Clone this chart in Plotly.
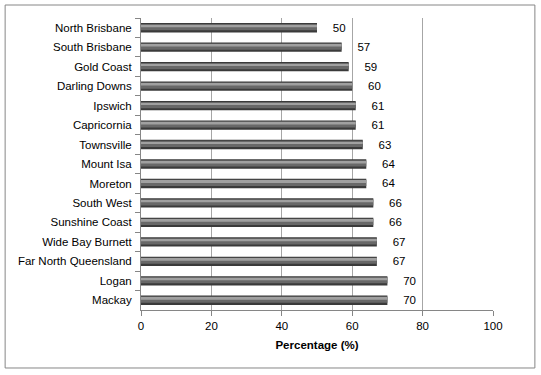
import plotly.graph_objects as go

regions = ["North Brisbane", "South Brisbane", "Gold Coast", "Darling Downs", "Ipswich",
           "Capricornia", "Townsville", "Mount Isa", "Moreton", "South West",
           "Sunshine Coast", "Wide Bay Burnett", "Far North Queensland", "Logan", "Mackay"]
values = [50, 57, 59, 60, 61, 61, 63, 64, 64, 66, 66, 67, 67, 70, 70]
x_ticks = [0, 20, 40, 60, 80, 100]

font_family = "Liberation Sans, Arial, sans-serif"

fig = go.Figure()
# dark body
fig.add_trace(go.Bar(y=regions, x=values, orientation="h", width=0.48,
                     marker=dict(color="#3a3a3a", line=dict(width=0)),
                     text=["\u00a0\u00a0\u00a0\u00a0" + str(v) for v in values], textposition="outside",
                     constraintext="none",
                     textfont=dict(size=11.5, color="#000000", family=font_family),
                     cliponaxis=False, hoverinfo="skip"))
# mid tone
fig.add_trace(go.Bar(y=regions, x=values, orientation="h", width=0.32, offset=-0.19,
                     marker=dict(color="#686868", line=dict(width=0)), hoverinfo="skip"))
# highlight
fig.add_trace(go.Bar(y=regions, x=values, orientation="h", width=0.10, offset=-0.13,
                     marker=dict(color="#a0a0a0", line=dict(width=0)), hoverinfo="skip"))

fig.update_layout(
    width=541, height=375,
    margin=dict(l=141, r=48, t=18, b=65),
    paper_bgcolor="white", plot_bgcolor="white",
    barmode="overlay", showlegend=False,
    font=dict(family=font_family, size=11.5, color="#000000"),
    xaxis=dict(range=[0, 100], tickvals=x_ticks, showgrid=True, gridcolor="#a6a6a6",
               gridwidth=1, zeroline=False, showline=True, linecolor="#868686",
               ticks="outside", ticklen=5, tickcolor="#868686",
               title=dict(text="<b>Percentage (%)</b>", font=dict(size=11.5), standoff=10)),
    yaxis=dict(autorange="reversed", showgrid=False, showline=True, linecolor="#868686",
               ticks="outside", ticklen=5, tickcolor="#868686", tickson="boundaries",
               ticklabelstandoff=6),
    shapes=[dict(type="rect", xref="paper", yref="paper",
                 x0=-0.386, x1=1.119, y0=-0.1986, y1=1.0445,
                 line=dict(color="#868686", width=1), fillcolor="rgba(0,0,0,0)", layer="below")],
)

fig.write_html("out.html", config={"displayModeBar": False},
               post_script="document.body.style.margin='0';document.body.style.overflow='hidden';")
